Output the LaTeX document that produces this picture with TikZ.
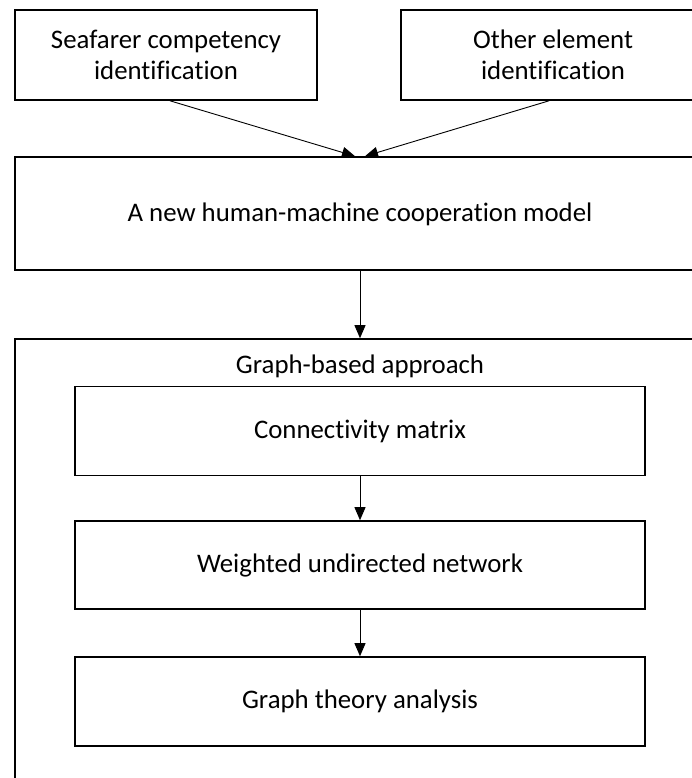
\documentclass[tikz,border=0pt]{standalone}
\usepackage{fontspec}
\setmainfont{Carlito}[Ligatures={NoCommon}]
\usetikzlibrary{arrows.meta}
\begin{document}
\begin{tikzpicture}[x=1pt,y=-1pt,
  box/.style={draw,line width=1.6pt,rectangle,align=center,inner sep=0pt,
    font=\fontsize{26.8}{31}\selectfont},
  arr/.style={line width=0.9pt,-{Triangle[length=13pt,width=11pt]}},
  lbl/.style={inner sep=0pt,font=\fontsize{26.8}{31}\selectfont}]
  \clip (0,0) rectangle (692,778);
  % input boxes
  \node[box,minimum width=302pt,minimum height=90pt] (sea) at (166,55)
    {Seafarer competency\\identification};
  \node[box,minimum width=304pt,minimum height=90pt] (other) at (553,55)
    {Other element\\identification};
  % model box
  \node[box,minimum width=706pt,minimum height=113pt] (main) at (368,213.5) {};
  \node[lbl] (mainlbl) at (360,214) {A new human-machine cooperation model};
  % graph-based container
  \node[box,minimum width=706pt,minimum height=461pt] (graph) at (368,569.5) {};
  \node[lbl] (graphlbl) at (360,366.5) {Graph-based approach};
  % inner steps
  \node[box,minimum width=570pt,minimum height=89pt] (conn) at (360,431) {Connectivity matrix};
  \node[box,minimum width=570pt,minimum height=88pt] (wnet) at (360,565) {Weighted undirected network};
  \node[box,minimum width=570pt,minimum height=89pt] (gta) at (360,701.5) {Graph theory analysis};
  % connectors
  \draw[arr] ([xshift=4pt]sea.south) -- ([xshift=-5pt]main.north -| conn);
  \draw[arr] ([xshift=-4pt]other.south) -- ([xshift=5pt]main.north -| conn);
  \draw[arr] (main.south -| conn) -- (graph.north -| conn);
  \draw[arr] (conn.south) -- (wnet.north);
  \draw[arr] (wnet.south) -- (gta.north);
\end{tikzpicture}
\end{document}
